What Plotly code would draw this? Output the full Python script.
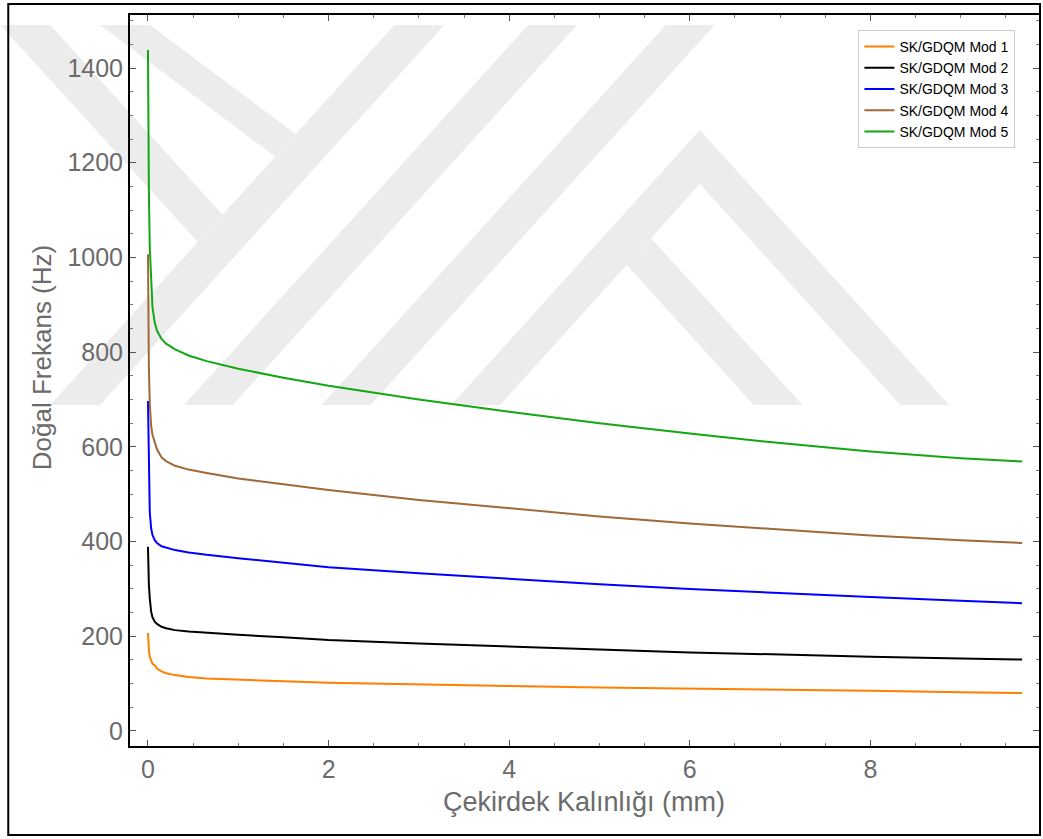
import plotly.graph_objects as go

# Core thickness (mm)
thickness = [0, 0.005, 0.01, 0.02, 0.035, 0.05, 0.075, 0.1, 0.15, 0.2, 0.3, 0.45,
             0.65, 1, 1.5, 2, 3, 4, 5, 6, 7, 8, 9, 9.68]

# Natural frequencies (Hz) per mode
mod1 = [207, 185, 172, 157, 147, 142, 139, 132, 126, 122, 118, 114,
        111, 108, 105, 102, 98, 95, 92, 90, 88, 85, 82, 80]
mod2 = [389, 340, 310, 280, 252, 240, 231, 226, 220, 217, 213, 210,
        207, 203, 198, 192, 185, 178, 172, 166, 161, 157, 153, 151]
mod3 = [697, 600, 530, 462, 428, 414, 403, 397, 390, 387, 382, 377,
        372, 365, 355, 346, 333, 321, 310, 300, 291, 283, 275, 270]
mod4 = [1007, 850, 770, 690, 645, 625, 608, 595, 578, 570, 560, 552,
        545, 533, 521, 509, 488, 470, 453, 438, 425, 413, 403, 397]
mod5 = [1438, 1250, 1140, 1020, 940, 895, 862, 845, 828, 818, 806, 793,
        781, 765, 746, 729, 700, 674, 650, 628, 608, 590, 576, 569]

series_names = ["SK/GDQM Mod 1", "SK/GDQM Mod 2", "SK/GDQM Mod 3",
                "SK/GDQM Mod 4", "SK/GDQM Mod 5"]
series_colors = ["#ff8000", "#000000", "#0000ff", "#a0693a", "#12a812"]

y_ticks = [0, 200, 400, 600, 800, 1000, 1200, 1400]
x_ticks = [0, 2, 4, 6, 8]

W, H = 1043, 839
L, R, T, B = 130, 1041, 15, 746


def px(x):
    return (x - L) / (R - L)


def py(y):
    return 1 - (y - T) / (B - T)


def poly_path(points):
    # closed SVG path in paper coordinates from page-pixel vertices
    parts = [f"{'M' if i == 0 else 'L'}{px(x):.5f},{py(y):.5f}"
             for i, (x, y) in enumerate(points)]
    return " ".join(parts) + " Z"


# Faint background emblem made of diagonal stripes (page pixels)
emblem = [
    [(50, 405), (100, 405), (445, 25), (395, 25)],
    [(0, 25), (50, 25), (223, 215), (198, 242)],
    [(100, 25), (150, 25), (296, 134), (276, 157)],
    [(184, 405), (233, 405), (578, 25), (529, 25)],
    [(322, 405), (371, 405), (716, 25), (667, 25)],
    [(452, 405), (501, 405), (701, 184), (902, 405), (951, 405), (701, 130)],
    [(755, 405), (804, 405), (652, 238), (628, 265)],
]

fig = go.Figure()
for name, color, vals in zip(series_names, series_colors,
                             [mod1, mod2, mod3, mod4, mod5]):
    fig.add_trace(go.Scatter(x=thickness, y=vals, mode="lines", name=name,
                             line=dict(color=color, width=2)))

font_family = "Liberation Sans, Arial, sans-serif"
axis_common = dict(
    showline=True, linecolor="black", linewidth=2, mirror="allticks",
    ticks="inside", ticklen=6, tickwidth=1, tickcolor="#555",
    showgrid=False, zeroline=False,
    tickfont=dict(family=font_family, size=25, color="#6b6b6b"),
)

fig.update_xaxes(range=[-0.199, 9.867], tickvals=x_ticks,
                 minor=dict(ticks="inside", dtick=0.5, ticklen=3, tickcolor="#777"),
                 **axis_common)
fig.update_yaxes(range=[-31.7, 1512], tickvals=y_ticks,
                 minor=dict(ticks="inside", dtick=50, ticklen=3, tickcolor="#777"),
                 **axis_common)

shapes = [
    dict(type="path", xref="paper", yref="paper", path=poly_path(p),
         fillcolor="#ececec", line=dict(width=0), layer="below")
    for p in emblem
]
shapes.append(
    dict(type="rect", xref="paper", yref="paper",
         x0=px(8), x1=px(1042), y0=py(835), y1=py(4),
         line=dict(color="black", width=2), fillcolor="rgba(0,0,0,0)", layer="above"))

fig.update_layout(
    width=W, height=H,
    margin=dict(l=L, r=W - R, t=T, b=H - B),
    plot_bgcolor="rgba(0,0,0,0)", paper_bgcolor="white",
    font=dict(family=font_family),
    showlegend=True,
    legend=dict(
        x=px(860), y=py(30), xanchor="left", yanchor="top",
        bgcolor="white", bordercolor="#cccccc", borderwidth=1,
        font=dict(family=font_family, size=14, color="black"),
        itemwidth=30, tracegroupgap=0,
    ),
    annotations=[
        dict(text="Çekirdek Kalınlığı (mm)", xref="paper", yref="paper",
             x=px(585), y=py(802), xanchor="center", yanchor="middle",
             showarrow=False, font=dict(family=font_family, size=27, color="#6b6b6b")),
        dict(text="Doğal Frekans (Hz)", xref="paper", yref="paper",
             x=px(42), y=py(358), xanchor="center", yanchor="middle", textangle=-90,
             showarrow=False, font=dict(family=font_family, size=26, color="#6b6b6b")),
    ],
    shapes=shapes,
)

fig.write_html("out.html")
